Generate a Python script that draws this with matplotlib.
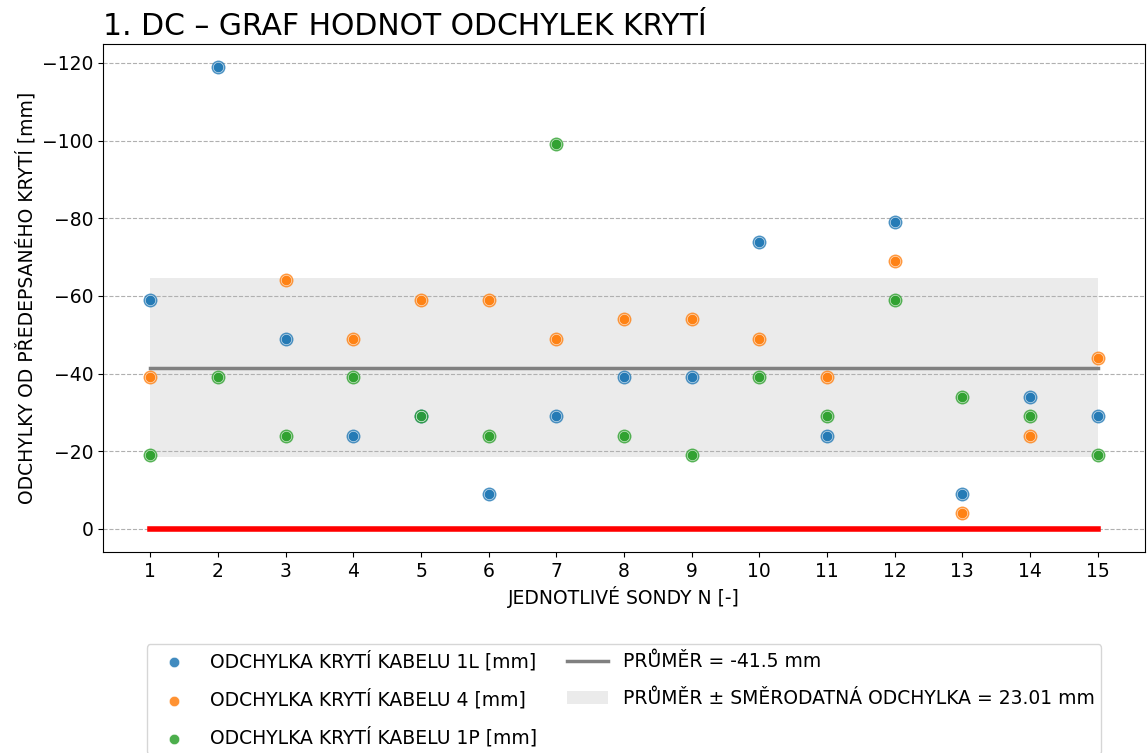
import numpy as np
import matplotlib.pyplot as plt

sondy = np.arange(1, 16)
kabel_1L = [-59, -119, -49, -24, -29, -9, -29, -39, -39, -74, -24, -79, -9, -34, -29]
kabel_4 = [-39, np.nan, -64, -49, -59, -59, -49, -54, -54, -49, -39, -69, -4, -24, -44]
kabel_1P = [-19, -39, -24, -39, -29, -24, -99, -24, -19, -39, -29, -59, -34, -29, -19]

vse = np.array(kabel_1L + kabel_4 + kabel_1P, dtype=float)
vse = vse[~np.isnan(vse)]
prumer = round(vse.mean(), 2)
odchylka = 23.01

fig = plt.figure(figsize=(11.47, 7.53), dpi=100)
ax = fig.add_axes([0.0898, 0.267, 0.9085, 0.675])

ax.fill_between(sondy, prumer - odchylka, prumer + odchylka, color='#d9d9d9', alpha=0.5,
                lw=0, label='PRŮMĚR ± SMĚRODATNÁ ODCHYLKA = %.2f mm' % odchylka, zorder=1)
ax.plot(sondy, [prumer] * len(sondy), color='grey', lw=2.5, label='PRŮMĚR = %s mm' % prumer, zorder=2)
ax.plot(sondy, [0] * len(sondy), color='red', lw=4, zorder=2)

barvy = ['#1f77b4', '#ff7f0e', '#2ca02c']
nazvy = ['ODCHYLKA KRYTÍ KABELU 1L [mm]', 'ODCHYLKA KRYTÍ KABELU 4 [mm]', 'ODCHYLKA KRYTÍ KABELU 1P [mm]']
for hodnoty, barva, nazev in zip([kabel_1L, kabel_4, kabel_1P], barvy, nazvy):
    ax.scatter(sondy, hodnoty, s=100, color=barva, alpha=0.8, lw=0, zorder=3)
    ax.scatter(sondy, hodnoty, s=55, color=barva, edgecolor='white', linewidths=0.4,
               alpha=0.85, zorder=4, label=nazev)

ax.invert_yaxis()
ax.set_xticks(sondy)
ax.tick_params(labelsize=13.5)
ax.grid(axis='y', linestyle='--', color='#b0b0b0', lw=0.8)
ax.set_xlabel('JEDNOTLIVÉ SONDY N [-]', fontsize=13.5)
ax.set_ylabel('ODCHYLKY OD PŘEDEPSANÉHO KRYTÍ [mm]', fontsize=13.5)
ax.set_title('1. DC – GRAF HODNOT ODCHYLEK KRYTÍ', fontsize=21.5, loc='left')

h, l = ax.get_legend_handles_labels()
poradi = [2, 3, 4, 1, 0]
ax.legend([h[i] for i in poradi], [l[i] for i in poradi], loc='upper center',
          bbox_to_anchor=(0.5, -0.163), ncol=2, fontsize=13.5, labelspacing=0.95,
          columnspacing=1.6, handlelength=2.2, borderpad=0.35)

plt.savefig('out.png', dpi=100)
